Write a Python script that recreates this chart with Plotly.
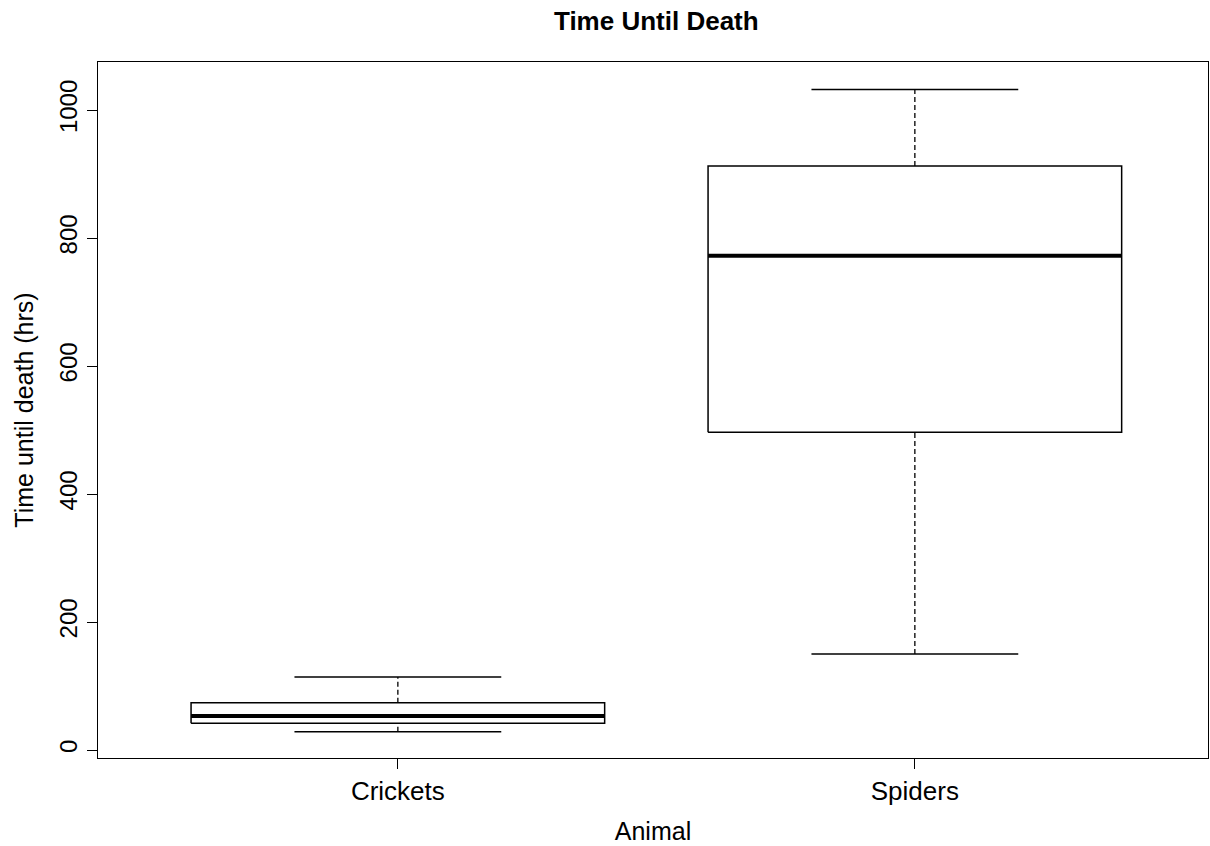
import plotly.graph_objects as go

# Five-number summaries per animal (hours until death)
animals = ["Crickets", "Spiders"]
lower_whisker = [28.6, 150.0]
q1 = [41.7, 496.4]
median = [53.1, 772.4]
q3 = [73.9, 912.5]
upper_whisker = [114.0, 1032.0]

y_ticks = [0, 200, 400, 600, 800, 1000]

HALF_BOX = 0.4
HALF_CAP = 0.2
FONT = "Liberation Sans, Arial, sans-serif"

fig = go.Figure()

for i, name in enumerate(animals):
    x0 = i + 1
    # box outline
    fig.add_trace(go.Scatter(
        x=[x0 - HALF_BOX, x0 + HALF_BOX, x0 + HALF_BOX, x0 - HALF_BOX, x0 - HALF_BOX],
        y=[q1[i], q1[i], q3[i], q3[i], q1[i]],
        mode="lines", line=dict(color="black", width=1.5), hoverinfo="skip"))
    # median
    fig.add_trace(go.Scatter(
        x=[x0 - HALF_BOX, x0 + HALF_BOX], y=[median[i], median[i]],
        mode="lines", line=dict(color="black", width=4), hoverinfo="skip"))
    # dashed whiskers
    for a, b in ((q3[i], upper_whisker[i]), (lower_whisker[i], q1[i])):
        fig.add_trace(go.Scatter(
            x=[x0, x0], y=[a, b], mode="lines",
            line=dict(color="black", width=1.3, dash="5px,3px"), hoverinfo="skip"))
    # staples
    for v in (upper_whisker[i], lower_whisker[i]):
        fig.add_trace(go.Scatter(
            x=[x0 - HALF_CAP, x0 + HALF_CAP], y=[v, v], mode="lines",
            line=dict(color="black", width=1.5), hoverinfo="skip"))

fig.update_layout(
    width=1210, height=846,
    margin=dict(l=98, r=2, t=62, b=88),
    paper_bgcolor="white", plot_bgcolor="white",
    showlegend=False,
    font=dict(family=FONT, color="black", size=25),
    title=dict(text="<b>Time Until Death</b>", x=0.503, xref="paper",
               y=1 - 21 / 846, yref="container", yanchor="middle", xanchor="center",
               font=dict(size=26, family=FONT, color="black")),
    xaxis=dict(
        range=[0.42, 2.567], tickvals=[1, 2], ticktext=animals,
        showgrid=False, zeroline=False, showline=True, mirror=True,
        linecolor="black", linewidth=1.3, ticks="outside", ticklen=10,
        tickcolor="black", tickwidth=1.2, tickfont=dict(size=26),
        title=dict(text="Animal", font=dict(size=25), standoff=17)),
    yaxis=dict(
        range=[-12.5, 1075], tickvals=y_ticks,
        showgrid=False, zeroline=False, showline=True, mirror=True,
        linecolor="black", linewidth=1.3, ticks="outside", ticklen=10,
        tickcolor="black", tickwidth=1.2, tickangle=-90, tickfont=dict(size=24),
        title=dict(text="Time until death (hrs)", font=dict(size=25), standoff=14)),
)

fig.write_html("out.html")
